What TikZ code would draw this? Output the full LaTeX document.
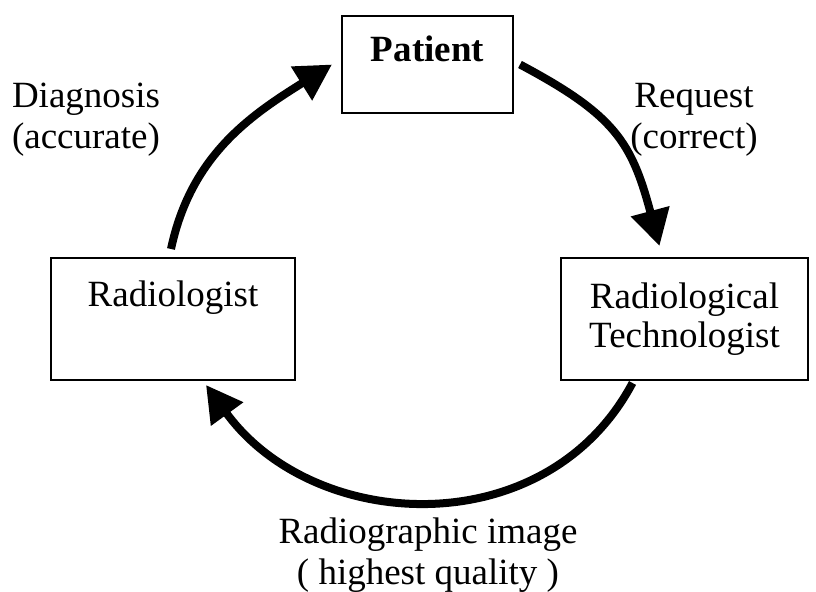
\documentclass[tikz,border=0pt]{standalone}
\usepackage{fontspec}
\setmainfont{Liberation Serif}
\usepackage{tikz}
\usetikzlibrary{arrows.meta}
\tikzset{
  rolebox/.style={
    draw=black,
    line width=1pt,
    align=center,
    inner sep=2mm,
    font=\fontsize{18.5}{19.5}\selectfont
  },
  note/.style={align=center,inner sep=0pt,font=\fontsize{18.5}{20.5}\selectfont},
  cyclearrow/.style={-{Triangle[length=18pt,width=19pt]},draw=black,line width=4pt}
}

\begin{document}
\begin{tikzpicture}[x=.5pt,y=.5pt]
  \useasboundingbox (0,0) rectangle (816,592);

  % The three roles; the text sits in the upper half of each box.
  \node[rolebox,minimum width=85.5pt,minimum height=48.5pt] (patient) at (427.5,527.5) {\textbf{Patient}\\[-10pt] \strut};
  \node[rolebox,minimum width=122pt,minimum height=61pt] (radiologist) at (173,273) {Radiologist\\ \strut};
  \node[rolebox,minimum width=123.5pt,minimum height=61pt] (tech) at (684.5,273) {Radiological\\Technologist};

  % What each step has to deliver.
  \node[note] (diagnosis) at (86,472) {Diagnosis\\(accurate)};
  \node[note] (request) at (694,472) {Request\\(correct)};
  \node[note] (image) at (428,37) {Radiographic image\\( highest quality )};

  % Cycle arrows, clockwise from the radiologist.
  \draw[cyclearrow] ([shift={(-1pt,4pt)}]radiologist.north) to[out=78,in=212] ([xshift=-4.5pt]patient.west);
  \draw[cyclearrow] ([xshift=3pt]patient.east) to[out=-28,in=105,looseness=1.2] ([shift={(-12.5pt,5.5pt)}]tech.north);
  \draw[cyclearrow] ([shift={(-26pt,-1pt)}]tech.south) to[out=242,in=-54,looseness=1.1] ([shift={(16.5pt,-2pt)}]radiologist.south);
\end{tikzpicture}
\end{document}
